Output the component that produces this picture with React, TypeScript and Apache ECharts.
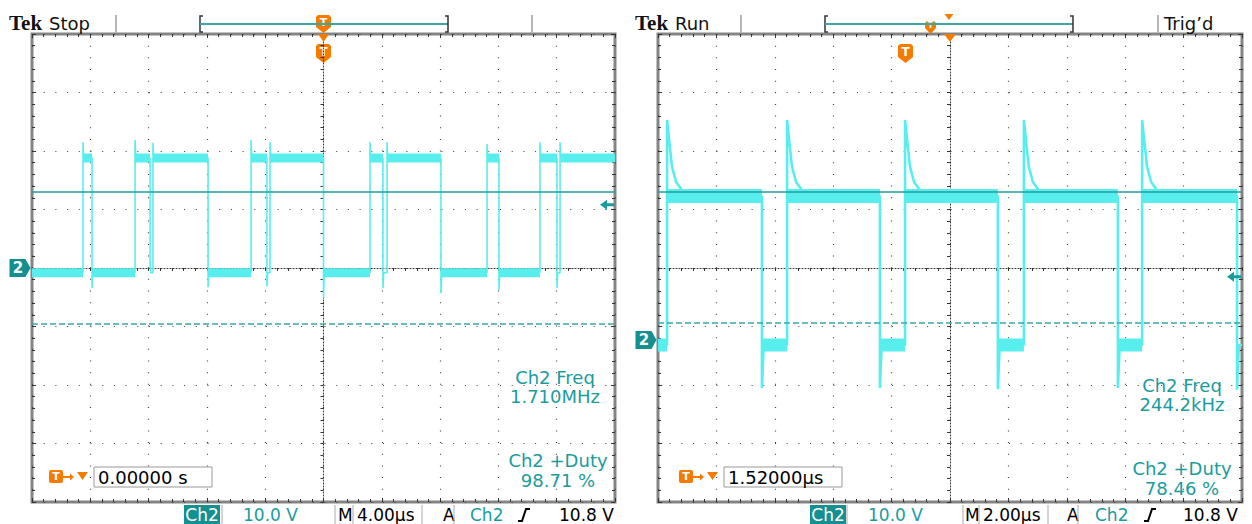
import React, { useEffect, useRef } from "react";
import * as echarts from "echarts";

// ---------- Left capture: 4.00 µs/div, 10.0 V/div ----------
const leftTime = [-20, 20];
const leftVolts = [-40, 40];
const leftHighLevel = 18.8;
const leftLowLevel = -0.8;
const leftEdgeTimes = [-16.5, -15.88, -12.93, -11.9, -11.7, -7.92, -4.97, -3.88, -3.67, 0.0, 3.19, 4.08, 4.36, 8.06, 11.22, 12.04, 14.85, 16.02, 16.23];
const leftEdgePeaks = [21.5, -3.4, 21.9, 1.0, 21.4, -3.3, 21.9, -3.2, 21.5, -5.1, 21.5, -3.4, 21.5, -4.3, 21.2, -3.8, 21.5, -3.4, 21.5];
const leftSolidRef = 13.0;
const leftDashRef = -9.6;

// ---------- Right capture: 2.00 µs/div, 10.0 V/div ----------
const rightTime = [-10, 10];
const rightVolts = [-27.7, 52.3];
const rightHighLevel = 24.6;
const rightLowLevel = -0.85;
const rightRiseTimes = [-9.69, -5.58, -1.54, 2.53, 6.58];
const rightFallTimes = [-6.44, -2.4, 1.64, 5.75, 9.83];
const rightFallDips = [-8.2, -8.2, -8.4, -8.2, -8.5];
const rightRingDt = [0, 0.07, 0.17, 0.31, 0.51];
const rightRingV = [37.6, 34.2, 29.6, 27.0, 25.6];
const rightSolidRef = 25.3;
const rightDashRef = 2.9;

const triggerLevel = 10.8;

// ---------- Texts ----------
const leftHeader = ["Tek", "Stop"];
const rightHeader = ["Tek", "Run"];
const leftMeas = ["Ch2 Freq", "1.710MHz", "Ch2 +Duty", "98.71 %"];
const rightMeas = ["Ch2 Freq", "244.2kHz", "Ch2 +Duty", "78.46 %"];
const leftTrigTime = "0.00000 s";
const rightTrigTime = "1.52000µs";
const leftStatus = ["Ch2", "10.0 V", "M", "4.00µs", "A", "Ch2", "10.8 V"];
const rightStatus = ["Ch2", "10.0 V", "M", "2.00µs", "A", "Ch2", "10.8 V"];

// ---------- Styles ----------
const CYAN = "#58eeee";
const TEAL = "#1a9c9c";
const TEAL_BOX = "#13908f";
const ORANGE = "#f47a00";
const FONT = '"DejaVu Sans", sans-serif';
const LEFT_GRID = { left: 32, top: 34, width: 583, height: 468 };
const RIGHT_GRID = { left: 658, top: 34, width: 584, height: 468 };

type Pt = number[] | null;

function buildLeftTrace(): Pt[] {
  const pts: Pt[] = [];
  let lvl = leftLowLevel;
  pts.push([leftTime[0], lvl]);
  leftEdgeTimes.forEach((t, i) => {
    const next = lvl === leftLowLevel ? leftHighLevel : leftLowLevel;
    pts.push([t, lvl], [t, leftEdgePeaks[i]], [t + 0.05, next]);
    lvl = next;
  });
  pts.push([leftTime[1], lvl]);
  return pts;
}

function buildLeftBands(): Pt[] {
  const pts: Pt[] = [];
  let lvl = leftLowLevel;
  let start = leftTime[0];
  [...leftEdgeTimes, leftTime[1]].forEach((t) => {
    if (t - start > 0.3) pts.push([start, lvl], [t, lvl], null);
    start = t;
    lvl = lvl === leftLowLevel ? leftHighLevel : leftLowLevel;
  });
  return pts;
}

function buildRightTrace(): Pt[] {
  const pts: Pt[] = [[rightTime[0], rightLowLevel]];
  rightRiseTimes.forEach((r, i) => {
    pts.push([r, rightLowLevel]);
    rightRingDt.forEach((dt, j) => pts.push([r + dt, rightRingV[j]]));
    const f = rightFallTimes[i];
    pts.push([f, rightHighLevel], [f, rightFallDips[i]], [Math.min(f + 0.06, rightTime[1]), rightLowLevel]);
  });
  pts.push([rightTime[1], rightLowLevel]);
  return pts;
}

function buildRightBands(): { high: Pt[]; low: Pt[] } {
  const high: Pt[] = [];
  const low: Pt[] = [];
  let start = rightTime[0];
  rightRiseTimes.forEach((r, i) => {
    low.push([start, rightLowLevel], [r, rightLowLevel], null);
    high.push([r, rightHighLevel], [rightFallTimes[i], rightHighLevel], null);
    start = rightFallTimes[i];
  });
  return { high, low };
}

function panelAxes(g: number, tRange: number[], vRange: number[]) {
  const tick = { color: "#333", width: 1 };
  const noLabel = { show: false };
  const xAxes = [
    {
      gridIndex: g, type: "value", min: -5, max: 5, interval: 1, axisLabel: noLabel, silent: true,
      axisLine: { show: true, onZero: true, lineStyle: { color: "#333", type: [1, 2], width: 1 } },
      axisTick: { show: true, length: 3, lineStyle: tick },
      minorTick: { show: true, splitNumber: 5, length: 3, lineStyle: tick },
      splitLine: { show: true, lineStyle: { color: "#404040", type: [1, 10.66], width: 1.2 } },
    },
    {
      gridIndex: g, type: "value", position: "top", min: -5, max: 5, interval: 1, axisLabel: noLabel,
      axisLine: { show: false, onZero: false }, splitLine: { show: false },
      axisTick: { show: true, inside: true, length: 4, lineStyle: tick },
      minorTick: { show: true, splitNumber: 5, length: 3, lineStyle: tick },
    },
    {
      gridIndex: g, type: "value", position: "bottom", min: -5, max: 5, interval: 1, axisLabel: noLabel,
      axisLine: { show: false, onZero: false }, splitLine: { show: false },
      axisTick: { show: true, inside: true, length: 4, lineStyle: tick },
      minorTick: { show: true, splitNumber: 5, length: 3, lineStyle: tick },
    },
    { gridIndex: g, type: "value", min: tRange[0], max: tRange[1], show: false, axisLine: { onZero: false } },
  ];
  const yAxes = [
    {
      gridIndex: g, type: "value", min: -4, max: 4, interval: 1, axisLabel: noLabel, silent: true,
      axisLine: { show: true, onZero: true, lineStyle: { color: "#333", type: [1, 2], width: 1 } },
      axisTick: { show: true, length: 3, lineStyle: tick },
      minorTick: { show: true, splitNumber: 5, length: 3, lineStyle: tick },
      splitLine: { show: true, lineStyle: { color: "#404040", type: [1, 10.7], width: 1.2 } },
    },
    {
      gridIndex: g, type: "value", position: "left", min: -4, max: 4, interval: 1, axisLabel: noLabel,
      axisLine: { show: false, onZero: false }, splitLine: { show: false },
      axisTick: { show: true, inside: true, length: 4, lineStyle: tick },
      minorTick: { show: true, splitNumber: 5, length: 3, lineStyle: tick },
    },
    {
      gridIndex: g, type: "value", position: "right", min: -4, max: 4, interval: 1, axisLabel: noLabel,
      axisLine: { show: false, onZero: false }, splitLine: { show: false },
      axisTick: { show: true, inside: true, length: 4, lineStyle: tick },
      minorTick: { show: true, splitNumber: 5, length: 3, lineStyle: tick },
    },
    { gridIndex: g, type: "value", min: vRange[0], max: vRange[1], show: false, axisLine: { onZero: false } },
  ];
  return { xAxes, yAxes };
}

function txt(text: string, x: number, y: number, size: number, fill: string, align = "left", font = FONT, weight = "normal") {
  return {
    type: "text",
    z: 10,
    style: {
      text, x, y, fill,
      font: `${weight} ${size}px ${font}`,
      align, verticalAlign: "middle", textAlign: align, textVerticalAlign: "middle",
    },
  };
}

function vline(x: number, y1: number, y2: number, color = "#aaaaaa", w = 1) {
  return { type: "line", z: 10, shape: { x1: x, y1, x2: x, y2 }, style: { stroke: color, lineWidth: w } };
}

function shieldT(x: number, y: number, w = 15, h = 19) {
  return {
    type: "group", x, y, z: 10,
    children: [
      { type: "polygon", shape: { points: [[2, 0], [w - 2, 0], [w, 2], [w, h - 6], [w / 2, h], [0, h - 6], [0, 2]] }, style: { fill: ORANGE } },
      { type: "text", style: { text: "T", x: w / 2, y: (h - 4) / 2, fill: "#fff", font: `bold ${Math.round(h * 0.62)}px ${FONT}`, align: "center", verticalAlign: "middle", textAlign: "center", textVerticalAlign: "middle" } },
    ],
  };
}

function downTri(cx: number, y: number, w: number, h: number) {
  return { type: "polygon", z: 10, shape: { points: [[cx - w / 2, y], [cx + w / 2, y], [cx, y + h]] }, style: { fill: ORANGE } };
}

function bracket(x1: number, x2: number) {
  return [
    { type: "polyline", z: 10, shape: { points: [[x1 + 3, 16], [x1, 16], [x1, 32], [x1 + 3, 32]] }, style: { stroke: "#333", lineWidth: 1.5, fill: null } },
    { type: "line", z: 10, shape: { x1, y1: 24, x2, y2: 24 }, style: { stroke: "#3aa6a6", lineWidth: 2 } },
    { type: "polyline", z: 10, shape: { points: [[x2 - 3, 16], [x2, 16], [x2, 32], [x2 - 3, 32]] }, style: { stroke: "#333", lineWidth: 1.5, fill: null } },
  ];
}

function trigBox(dx: number, value: string) {
  return [
    {
      type: "group", x: 49 + dx, y: 470, z: 10,
      children: [
        { type: "rect", shape: { x: 0, y: 0, width: 14, height: 13, r: 2 }, style: { fill: ORANGE } },
        { type: "text", style: { text: "T", x: 7, y: 6.5, fill: "#fff", font: `bold 11px ${FONT}`, align: "center", verticalAlign: "middle", textAlign: "center", textVerticalAlign: "middle" } },
      ],
    },
    { type: "line", z: 10, shape: { x1: 63 + dx, y1: 477, x2: 71 + dx, y2: 477 }, style: { stroke: ORANGE, lineWidth: 2 } },
    { type: "polygon", z: 10, shape: { points: [[70 + dx, 473.5], [74 + dx, 477], [70 + dx, 480.5]] }, style: { fill: ORANGE } },
    downTri(82.5 + dx, 472, 11, 8),
    { type: "rect", z: 10, shape: { x: 94 + dx, y: 467, width: 118, height: 20 }, style: { fill: "#fff", stroke: "#999", lineWidth: 1 } },
    { ...txt(value, 98 + dx, 477.5, 18, "#000"), z: 11 },
  ];
}

function statusBar(s: string[], p: { ch: number; sep1: number; volt: number; sep2: number; m: number; box1: number; box2: number; a: number; sep3: number; ch2: number; edge: number; trig: number }) {
  return [
    { type: "rect", z: 10, shape: { x: p.ch, y: 505, width: 36, height: 19 }, style: { fill: TEAL_BOX } },
    txt(s[0], p.ch + 18, 515, 17, "#fff", "center"),
    vline(p.sep1, 505, 524),
    txt(s[1], p.volt, 515, 17, TEAL),
    vline(p.sep2, 505, 524),
    txt(s[2], p.m, 515, 17, "#000"),
    vline(p.box1, 505, 524),
    txt(s[3], p.box1 + 4, 515, 17, "#000"),
    vline(p.box2, 505, 524),
    txt(s[4], p.a, 515, 17, "#000"),
    vline(p.sep3, 505, 524),
    txt(s[5], p.ch2, 515, 17, TEAL),
    { type: "polyline", z: 10, shape: { points: [[p.edge, 521], [p.edge + 4, 521], [p.edge + 8, 509], [p.edge + 12, 509]] }, style: { stroke: "#000", lineWidth: 2, fill: null } },
    txt(s[6], p.trig, 515, 17, "#000"),
  ];
}

const chanSymbol = "path://M0,0 L16,0 L21,9 L16,18 L0,18 Z";
const arrowSymbol = "path://M0,5 L7,0 L7,3.5 L14,3.5 L14,6.5 L7,6.5 L7,10 Z";

function markers(xMin: number, xMax: number) {
  return {
    symbolKeepAspect: false,
    data: [
      {
        coord: [xMin, 0], symbol: chanSymbol, symbolSize: [21, 18], symbolOffset: [-12, 0],
        itemStyle: { color: TEAL_BOX },
        label: { show: true, formatter: "2", position: "inside", color: "#fff", fontWeight: "bold", fontSize: 15, fontFamily: FONT, offset: [-2, 0] },
      },
      {
        coord: [xMax, triggerLevel], symbol: arrowSymbol, symbolSize: [14, 10], symbolOffset: [-8, 0],
        itemStyle: { color: TEAL }, label: { show: false },
      },
    ],
  };
}

function refLines(solid: number, dash: number) {
  return {
    silent: true, symbol: ["none", "none"], label: { show: false },
    data: [
      { yAxis: solid, lineStyle: { color: "#1f9e9e", width: 1.5, type: "solid" } },
      { yAxis: dash, lineStyle: { color: "#3aa8a8", width: 1.5, type: [6, 3] } },
    ],
  };
}

export default function App() {
  const ref = useRef<HTMLDivElement>(null);
  useEffect(() => {
    document.body.style.margin = "0";
    if (!ref.current) return;
    const chart = echarts.init(ref.current, undefined, { renderer: "svg" });
    const la = panelAxes(0, leftTime, leftVolts);
    const ra = panelAxes(1, rightTime, rightVolts);
    const rb = buildRightBands();
    const lineBase = { type: "line", symbol: "none", silent: true, connectNulls: false };

    const graphic: any[] = [
      // left header
      txt(leftHeader[0], 9, 23, 21, "#111", "left", '"Liberation Serif", serif', "bold"),
      txt(leftHeader[1], 49, 23, 18, "#111"),
      vline(116, 15, 33, "#b5b5b5", 2),
      ...bracket(200, 448),
      vline(532, 15, 33, "#b5b5b5", 2),
      shieldT(316, 15, 15, 18),
      downTri(323.5, 34, 11, 8),
      shieldT(316, 44),
      // right header
      txt(rightHeader[0], 635, 23, 21, "#111", "left", '"Liberation Serif", serif', "bold"),
      txt(rightHeader[1], 675, 23, 18, "#111"),
      vline(741, 15, 33, "#b5b5b5", 2),
      ...bracket(825, 1073),
      shieldT(925, 21, 11, 13),
      downTri(949, 14, 9, 6),
      vline(1158, 15, 33, "#b5b5b5", 2),
      txt("Trig\u2019d", 1164, 23, 18, "#111"),
      downTri(950, 34, 12, 8),
      shieldT(898, 44),
      // measurements
      txt(leftMeas[0], 555, 377, 18, TEAL, "center"),
      txt(leftMeas[1], 555, 396, 18, TEAL, "center"),
      txt(leftMeas[2], 558, 460, 18, TEAL, "center"),
      txt(leftMeas[3], 558, 480, 18, TEAL, "center"),
      txt(rightMeas[0], 1182, 385, 18, TEAL, "center"),
      txt(rightMeas[1], 1182, 404, 18, TEAL, "center"),
      txt(rightMeas[2], 1182, 468, 18, TEAL, "center"),
      txt(rightMeas[3], 1182, 488, 18, TEAL, "center"),
      // trigger time boxes
      ...trigBox(0, leftTrigTime),
      ...trigBox(630, rightTrigTime),
      // status bars
      ...statusBar(leftStatus, { ch: 184, sep1: 222, volt: 243, sep2: 335, m: 338, box1: 353, box2: 422, a: 443, sep3: 454, ch2: 470, edge: 518, trig: 559 }),
      ...statusBar(rightStatus, { ch: 810, sep1: 847, volt: 868, sep2: 963, m: 965, box1: 979, box2: 1048, a: 1067, sep3: 1078, ch2: 1095, edge: 1144, trig: 1183 }),
    ];

    chart.setOption({
      animation: false,
      backgroundColor: "#ffffff",
      grid: [
        { ...LEFT_GRID, show: true, borderColor: "#858585", borderWidth: 3, backgroundColor: "transparent" },
        { ...RIGHT_GRID, show: true, borderColor: "#858585", borderWidth: 3, backgroundColor: "transparent" },
      ],
      xAxis: [...la.xAxes, ...ra.xAxes],
      yAxis: [...la.yAxes, ...ra.yAxes],
      series: [
        {
          ...lineBase, name: "leftBands", xAxisIndex: 3, yAxisIndex: 3, z: 2,
          data: buildLeftBands(), lineStyle: { color: CYAN, width: 9, cap: "butt" },
        },
        {
          ...lineBase, name: "leftTrace", xAxisIndex: 3, yAxisIndex: 3, z: 3,
          data: buildLeftTrace(), lineStyle: { color: CYAN, width: 1.6 },
          markLine: refLines(leftSolidRef, leftDashRef),
          markPoint: markers(leftTime[0], leftTime[1]),
        },
        {
          ...lineBase, name: "rightHigh", xAxisIndex: 7, yAxisIndex: 7, z: 2,
          data: rb.high, lineStyle: { color: CYAN, width: 14, cap: "butt" },
        },
        {
          ...lineBase, name: "rightLow", xAxisIndex: 7, yAxisIndex: 7, z: 2,
          data: rb.low, lineStyle: { color: CYAN, width: 13, cap: "butt" },
        },
        {
          ...lineBase, name: "rightTrace", xAxisIndex: 7, yAxisIndex: 7, z: 3,
          data: buildRightTrace(), lineStyle: { color: CYAN, width: 2.6 },
          markLine: refLines(rightSolidRef, rightDashRef),
          markPoint: markers(rightTime[0], rightTime[1]),
        },
      ],
      graphic,
    });
    return () => chart.dispose();
  }, []);
  return <div ref={ref} style={{ width: 1252, height: 524, position: "absolute", left: 0, top: 0 }} />;
}
